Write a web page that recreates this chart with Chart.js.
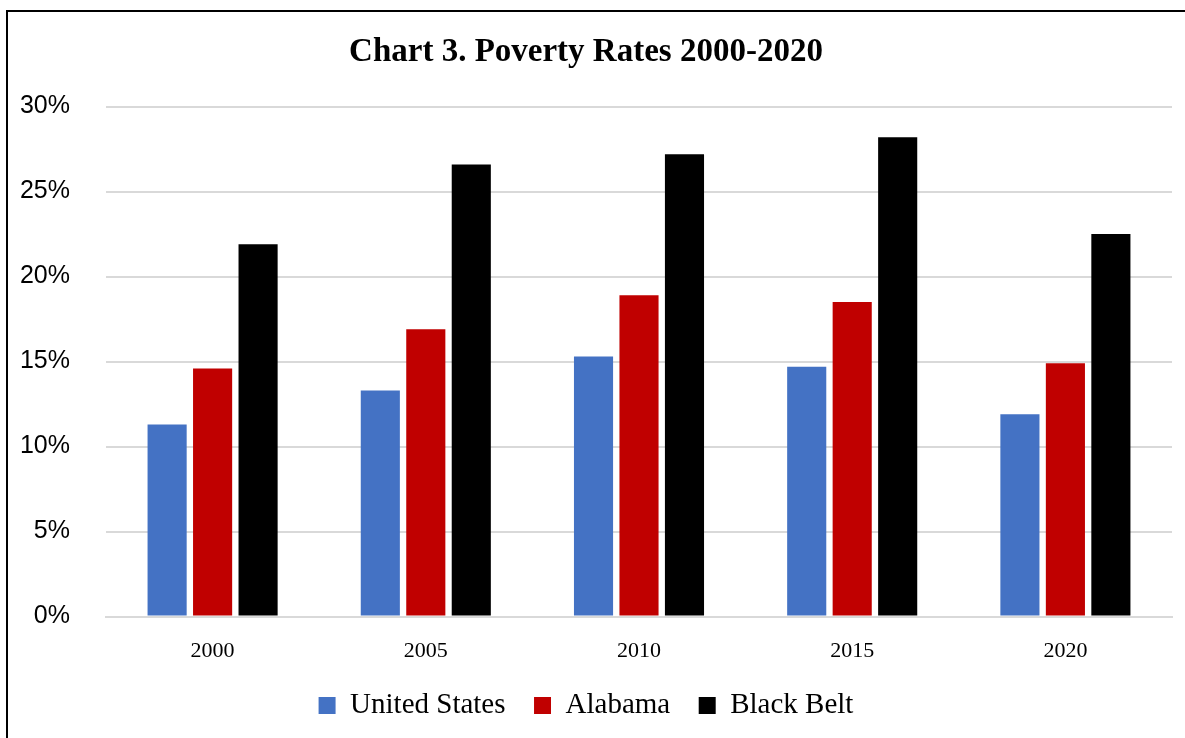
<!DOCTYPE html>
<html>
<head>
<meta charset="utf-8">
<script src="https://cdn.jsdelivr.net/npm/chart.js@4"></script>
<style>
  html, body { margin: 0; padding: 0; background: #fff; }
  #wrap { position: relative; width: 1185px; height: 738px; }
  #frame { position: absolute; left: 6px; top: 10px; right: -4px; bottom: -4px; border-top: 2px solid #000; border-left: 2px solid #000; pointer-events: none; }
</style>
</head>
<body>
<div id="wrap">
  <canvas id="chart" width="1185" height="738"></canvas>
  <div id="frame"></div>
</div>
<script>
// Données
const years = ['2000', '2005', '2010', '2015', '2020'];
const unitedStates = [11.3, 13.3, 15.3, 14.7, 11.9];
const alabama = [14.6, 16.9, 18.9, 18.5, 14.9];
const blackBelt = [21.9, 26.6, 27.2, 28.2, 22.5];
const yTicks = [0, 5, 10, 15, 20, 25, 30];

const serif = "'Liberation Serif', 'DejaVu Serif', serif";
const sans = "'Liberation Sans', Arial, sans-serif";

const makeDataset = (label, data, color) => ({
    label,
    data,
    backgroundColor: color,
    borderWidth: 0,
    categoryPercentage: 0.64,
    barPercentage: 0.86,
});

const ctx = document.getElementById('chart').getContext('2d');
new Chart(ctx, {
    type: 'bar',
    data: {
        labels: years,
        datasets: [
            makeDataset('United States', unitedStates, '#4472C4'),
            makeDataset('Alabama', alabama, '#C00000'),
            makeDataset('Black Belt', blackBelt, '#000000'),
        ],
    },
    options: {
        responsive: false,
        animation: false,
        layout: { padding: { left: 0, right: 13, top: 33, bottom: 8 } },
        plugins: {
            title: {
                display: true,
                text: 'Chart 3. Poverty Rates 2000-2020',
                color: '#000',
                font: { family: serif, size: 33, weight: 'bold' },
                padding: { top: 0, bottom: 34 },
            },
            legend: {
                position: 'bottom',
                labels: {
                    color: '#000',
                    font: { family: serif, size: 29 },
                    boxWidth: 17,
                    boxHeight: 17,
                    padding: 14,
                    // espace supplémentaire entre les entrées
                    generateLabels: (chart) => {
                        const items = Chart.defaults.plugins.legend.labels.generateLabels(chart);
                        items.forEach((it, i) => { if (i < items.length - 1) it.text += '  '; });
                        return items;
                    },
                },
            },
            tooltip: { enabled: false },
        },
        scales: {
            x: {
                grid: { display: false },
                border: { color: '#d9d9d9', width: 2 },
                ticks: { color: '#000', font: { family: serif, size: 22 }, padding: 13 },
            },
            y: {
                min: 0,
                max: 30,
                afterBuildTicks: (axis) => { axis.ticks = yTicks.map(v => ({ value: v })); },
                afterFit: (axis) => { axis.width = 106; },
                grid: { color: '#d9d9d9', lineWidth: 2, drawTicks: false },
                border: { display: false },
                ticks: {
                    color: '#000',
                    font: { family: sans, size: 25 },
                    padding: 36,
                    callback: (v) => v + '%',
                },
            },
        },
    },
});
</script>
</body>
</html>
